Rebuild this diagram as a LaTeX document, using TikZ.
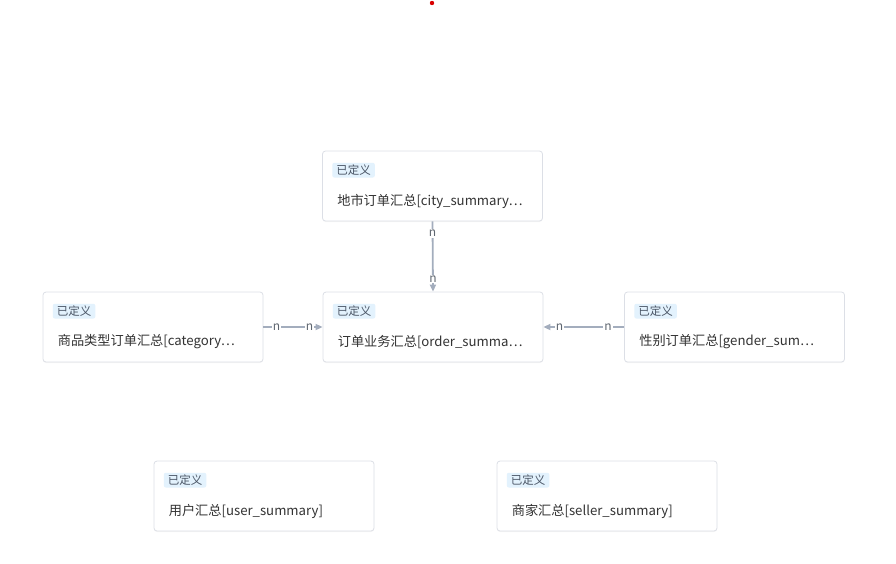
\documentclass[tikz,border=0pt]{standalone}
\usepackage{fontspec}
\setmainfont{Noto Sans CJK SC}
\usetikzlibrary{arrows.meta,shadows}
\definecolor{boxline}{HTML}{DCDFE6}
\definecolor{tagbg}{HTML}{E3F2FD}
\definecolor{tagtx}{HTML}{4A5565}
\definecolor{maintx}{HTML}{333333}
\definecolor{edgec}{HTML}{A3ADBD}
\definecolor{lblc}{HTML}{5F6670}
\tikzset{
  tbl/.style={draw=boxline, fill=white, rounded corners=3pt, line width=0.8pt,
    minimum width=220pt, minimum height=70pt, inner sep=0pt,
    drop shadow={shadow xshift=0pt, shadow yshift=-1pt, opacity=0.08}},
  tagbox/.style={fill=tagbg, rounded corners=2pt, inner xsep=4pt, inner ysep=2pt,
    text=tagtx, font=\fontsize{11.5}{11.5}\selectfont, anchor=north west},
  title/.style={text=maintx, font=\fontsize{13.2}{13.2}\selectfont, anchor=west, inner sep=0pt},
  rel/.style={draw=edgec, line width=1.8pt, -{Triangle[length=7pt,width=6pt]}},
  mult/.style={fill=white, text=lblc, font=\fontsize{12}{12}\selectfont, inner sep=1pt}
}
\begin{document}
\begin{tikzpicture}[x=1pt,y=-1pt]
\useasboundingbox (0,0) rectangle (896,563);
\fill[red!85!black] (432,3) circle (2.2);
% tables
\node[tbl] (city) at (432.5,186) {};
\node[tbl] (order) at (433,327) {};
\node[tbl] (cat) at (153,327) {};
\node[tbl] (gender) at (734.5,327) {};
\node[tbl] (user) at (264,496) {};
\node[tbl] (seller) at (607,496) {};
% tags
\foreach \n in {city,order,cat,gender,user,seller}{
  \node[tagbox] (\n-tag) at ([shift={(10,12)}]\n.north west) {已定义};
}
% titles
\node[title] (city-title) at ([shift={(15,15)}]city.west) {地市订单汇总[city\_summary\ldots};
\node[title] (order-title) at ([shift={(15,15)}]order.west) {订单业务汇总[order\_summa\ldots};
\node[title] (cat-title) at ([shift={(15,15)}]cat.west) {商品类型订单汇总[category\ldots};
\node[title] (gender-title) at ([shift={(15,15)}]gender.west) {性别订单汇总[gender\_sum\ldots};
\node[title] (user-title) at ([shift={(15,15)}]user.west) {用户汇总[user\_summary]};
\node[title] (seller-title) at ([shift={(15,15)}]seller.west) {商家汇总[seller\_summary]};
% relations
\draw[rel] (city.south) -- node[mult, pos=0.17]{n} node[mult, pos=0.82]{n} (order.north);
\draw[rel] (cat.east) -- node[mult, pos=0.22]{n} node[mult, pos=0.78]{n} (order.west);
\draw[rel] (gender.west) -- node[mult, pos=0.2]{n} node[mult, pos=0.8]{n} (order.east);
\end{tikzpicture}
\end{document}
